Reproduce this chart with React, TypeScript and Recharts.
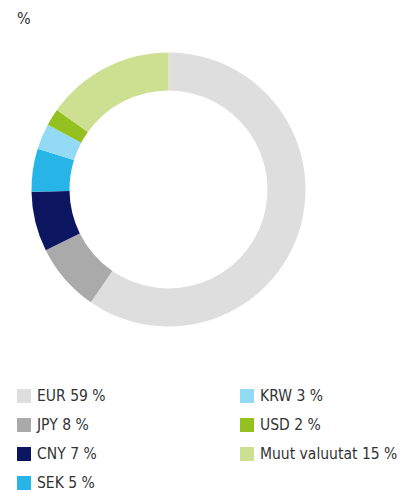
import { PieChart, Pie, Cell, Legend } from 'recharts';

const labels = ['EUR', 'JPY', 'CNY', 'SEK', 'KRW', 'USD', 'Muut valuutat'];
const shares = [59, 8, 7, 5, 3, 2, 15];
const colors = ['#dedede', '#aaaaaa', '#0c1560', '#27b5e8', '#93dbf5', '#94c11f', '#cde092'];

const data = labels.map((name, i) => ({ name, value: shares[i] }));

const font = '"DejaVu Sans Condensed", "DejaVu Sans", sans-serif';

const renderLegend = () => {
  const left = data.slice(0, 4);
  const right = data.slice(4);
  const item = (d: { name: string; value: number }, i: number) => (
    <div key={d.name} style={{ display: 'flex', alignItems: 'center', height: 29 }}>
      <span style={{ width: 14, height: 14, background: colors[i], marginRight: 6, flexShrink: 0 }} />
      <span style={{ fontSize: 15.5, color: '#333', fontFamily: font, whiteSpace: 'nowrap' }}>
        {d.name} {d.value} %
      </span>
    </div>
  );
  return (
    <div style={{ display: 'flex' }}>
      <div style={{ width: 223, paddingLeft: 17 }}>{left.map((d, i) => item(d, i))}</div>
      <div>{right.map((d, i) => item(d, i + 4))}</div>
    </div>
  );
};

export default function App() {
  return (
    <div style={{ position: 'absolute', top: 0, left: 0, width: 400, height: 491, background: '#fff' }}>
      <div style={{ position: 'absolute', top: 9, left: 17, fontSize: 16, color: '#333', fontFamily: font }}>%</div>
      <PieChart width={400} height={491} margin={{ top: 0, right: 0, bottom: 0, left: 0 }}>
        <Pie
          data={data}
          dataKey="value"
          nameKey="name"
          cx={168.5}
          cy={189.5}
          innerRadius={99}
          outerRadius={137}
          startAngle={90}
          endAngle={-270}
          stroke="none"
          isAnimationActive={false}
        >
          {data.map((d, i) => (
            <Cell key={d.name} fill={colors[i]} />
          ))}
        </Pie>
        <Legend
          content={renderLegend}
          wrapperStyle={{ position: 'absolute', top: 381, left: 0, width: 400 }}
        />
      </PieChart>
    </div>
  );
}
